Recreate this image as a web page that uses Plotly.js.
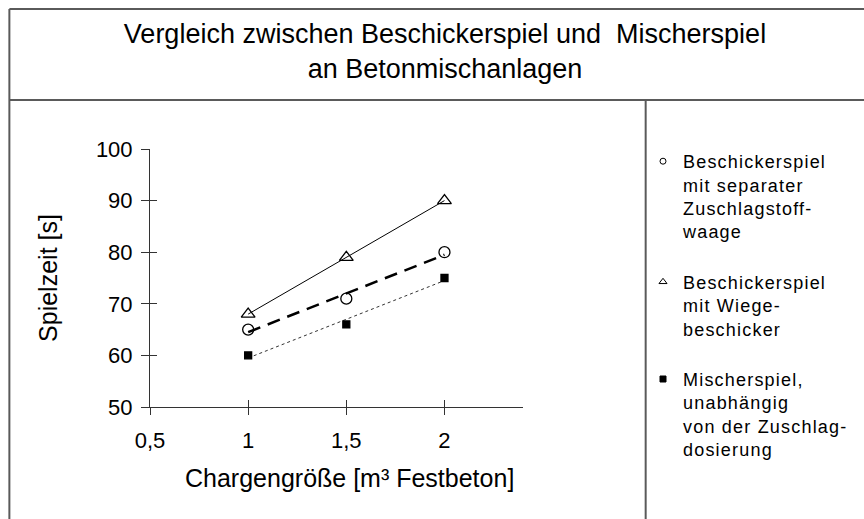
<!DOCTYPE html>
<html>
<head>
<meta charset="utf-8">
<script src="https://cdn.plot.ly/plotly-3.0.1.min.js"></script>
<style>
html,body{margin:0;padding:0;background:#fff;}
#chart{width:864px;height:519px;}
.legendtext{letter-spacing:1.2px;}
</style>
</head>
<body>
<div id="chart"></div>
<script>
// ---- data ----
const chargeSizes = [1, 1.5, 2];
const seriesNames = [
  'Beschickerspiel<br>mit separater<br>Zuschlagstoff-<br>waage',
  'Beschickerspiel<br>mit Wiege-<br>beschicker',
  'Mischerspiel,<br>unabhängig<br>von der Zuschlag-<br>dosierung'
];
const separateWaage = [65, 71, 80];
const wiegeBeschicker = [68, 79, 90];
const mischerspiel = [60, 66, 75];
const xTickVals = [0.5, 1, 1.5, 2];
const xTickText = ['0,5', '1', '1,5', '2'];
const yTickVals = [50, 60, 70, 80, 90, 100];

// linear trend line (least squares) through the data
function trend(xs, ys) {
  const n = xs.length;
  const mx = xs.reduce((a, b) => a + b, 0) / n;
  const my = ys.reduce((a, b) => a + b, 0) / n;
  let sxy = 0, sxx = 0;
  for (let i = 0; i < n; i++) { sxy += (xs[i] - mx) * (ys[i] - my); sxx += (xs[i] - mx) ** 2; }
  const b = sxy / sxx, a = my - b * mx;
  const x0 = xs[0], x1 = xs[n - 1];
  return { x: [x0, x1], y: [a + b * x0, a + b * x1] };
}

const FONT = 'Liberation Sans, Arial, sans-serif';
const L = 150, R = 524, T = 149, B = 407; // plot area in px
const W = 864, H = 519;
const px = v => (v - L) / (R - L);
const py = v => (B - v) / (B - T);

const series = [
  { y: separateWaage, sym: 'circle-open', size: 11, lsize: 6, line: { color: '#000', width: 2.5, dash: '13px,8px' } },
  { y: wiegeBeschicker, sym: 'triangle-up-open', size: 12, lsize: 7, line: { color: '#000', width: 1 } },
  { y: mischerspiel, sym: 'square', size: 7, lsize: 6, line: { color: '#333', width: 1, dash: 'dot' } }
];

const traces = [];
series.forEach((s, i) => {
  const t = trend(chargeSizes, s.y);
  traces.push({ x: t.x, y: t.y, mode: 'lines', line: s.line, showlegend: false, hoverinfo: 'skip' });
});
series.forEach((s, i) => {
  traces.push({
    x: chargeSizes, y: s.y, mode: 'markers', showlegend: false,
    marker: { symbol: s.sym, size: s.size, color: '#000', line: { color: '#000', width: 1.3 } }
  });
});
// legend entries
series.forEach((s, i) => {
  traces.push({
    x: [null], y: [null], xaxis: 'x2', yaxis: 'y2', mode: 'markers', name: seriesNames[i],
    legendgroup: 'g' + i,
    marker: { symbol: s.sym, size: s.lsize, color: '#000', line: { color: '#000', width: 1 } }
  });
});

const borderColor = '#5a5a5a';
const layout = {
  width: W, height: H,
  margin: { l: L, r: W - R, t: T, b: H - B },
  paper_bgcolor: '#fff', plot_bgcolor: '#fff',
  font: { family: FONT, color: '#000' },
  title: {
    text: 'Vergleich zwischen Beschickerspiel und&nbsp; Mischerspiel<br>an Betonmischanlagen',
    font: { family: FONT, size: 27, color: '#000' },
    x: 445 / W, xref: 'container', xanchor: 'center',
    y: 1 - 43 / H, yref: 'container', yanchor: 'middle'
  },
  xaxis: {
    range: [0.5, 2.4], tickvals: xTickVals, ticktext: xTickText,
    showgrid: false, zeroline: false, showline: true, linecolor: '#333', linewidth: 1,
    ticks: 'outside', ticklen: 7, tickcolor: '#333', tickwidth: 1,
    tickfont: { family: FONT, size: 22 }, ticklabelstandoff: 7,
    fixedrange: true
  },
  yaxis: {
    range: [50, 100], tickvals: yTickVals,
    showgrid: false, zeroline: false, showline: true, linecolor: '#333', linewidth: 1,
    ticks: 'outside', ticklen: 8, tickcolor: '#333', tickwidth: 1,
    tickfont: { family: FONT, size: 22 }, ticklabelstandoff: 4,
    title: { text: 'Spielzeit [s]', font: { family: FONT, size: 25 }, standoff: 31 },
    fixedrange: true
  },
  xaxis2: {
    overlaying: 'x', range: [0.5, 2.4], tickvals: xTickVals, showticklabels: false,
    showgrid: false, zeroline: false, showline: false,
    ticks: 'inside', ticklen: 7, tickcolor: '#333', tickwidth: 1, fixedrange: true
  },
  yaxis2: {
    overlaying: 'y', range: [50, 100], tickvals: yTickVals, showticklabels: false,
    showgrid: false, zeroline: false, showline: false,
    ticks: 'inside', ticklen: 7, tickcolor: '#333', tickwidth: 1, fixedrange: true
  },
  annotations: [
    { text: 'Chargengröße [m³ Festbeton]', xref: 'paper', yref: 'paper', x: px(350), y: py(478),
      xanchor: 'center', yanchor: 'middle', showarrow: false, font: { family: FONT, size: 25, color: '#000' } }
  ],
  showlegend: true,
  legend: {
    x: px(643), y: py(143), xanchor: 'left', yanchor: 'top',
    font: { family: FONT, size: 18, color: '#000' },
    valign: 'top', tracegroupgap: 24, bgcolor: 'rgba(0,0,0,0)', borderwidth: 0,
    maxheight: 500,
    itemclick: false, itemdoubleclick: false
  },
  shapes: [
    // outer frame
    { type: 'line', xref: 'paper', yref: 'paper', x0: px(9), x1: px(900), y0: py(9), y1: py(9), line: { color: borderColor, width: 2 } },
    { type: 'line', xref: 'paper', yref: 'paper', x0: px(9), x1: px(9), y0: py(9), y1: py(560), line: { color: borderColor, width: 2 } },
    // title separator
    { type: 'line', xref: 'paper', yref: 'paper', x0: px(9), x1: px(900), y0: py(100), y1: py(100), line: { color: borderColor, width: 2 } },
    // legend separator
    { type: 'line', xref: 'paper', yref: 'paper', x0: px(647), x1: px(647), y0: py(100), y1: py(560), line: { color: borderColor, width: 2 } }
  ]
};

Plotly.newPlot('chart', traces, layout, { displayModeBar: false, staticPlot: true });
</script>
</body>
</html>
